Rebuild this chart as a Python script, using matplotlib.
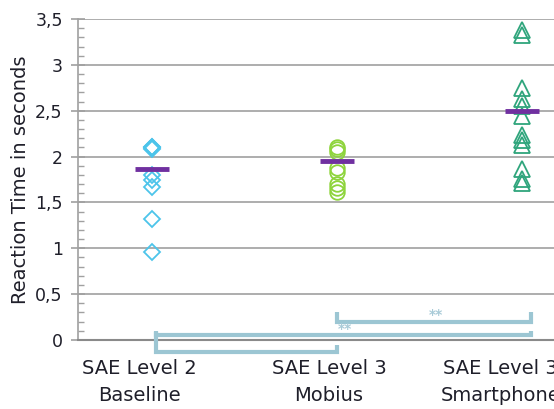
import numpy as np
import matplotlib
matplotlib.use("Agg")
import matplotlib.pyplot as plt
from matplotlib.ticker import MultipleLocator, FuncFormatter

# ---------------------------------------------------------------- data ---
categories = ["SAE Level 2\nBaseline", "SAE Level 3\nMobius", "SAE Level 3\nSmartphone"]
baseline = [2.10, 2.10, 2.09, 2.08, 1.80, 1.74, 1.67, 1.32, 0.96]
mobius = [2.10, 2.08, 2.05, 1.88, 1.83, 1.70, 1.66, 1.61]
smartphone = [3.38, 3.33, 2.75, 2.63, 2.55, 2.44, 2.23, 2.18, 2.13, 1.86, 1.76, 1.71]
means = [1.86, 1.95, 2.50]
# significance brackets: x start, x end, level, label
br_start = [1.0, 0.02, 0.02]
br_end = [2.05, 2.05, 1.0]
br_level = [0.20, 0.055, -0.13]
br_label = ["**", "**", ""]

TXT = "#1f1f2a"
GRID = "#a0a0a0"

fig = plt.figure(figsize=(5.54, 4.09), dpi=100)
ax = fig.add_axes([0.1408, 0.1687, 1 - 0.1408, 0.9535 - 0.1687])

series = [(baseline, "D", "#4cc4ea", 8.5), (mobius, "o", "#8ed43c", 10.5),
          (smartphone, "^", "#2fa57c", 11)]
for i, (vals, mk, col, ms) in enumerate(series):
    ax.plot(np.full(len(vals), i), vals, linestyle="none", marker=mk, ms=ms,
            mfc="none", mec=col, mew=1.3, zorder=4)

for i, m in enumerate(means):
    ax.hlines(m, i - 0.092, i + 0.092, color="#7030a0", lw=3.5, zorder=5)

# significance brackets (left / right tip heights differ a bit in the original)
bcol = "#9cc6d3"
tip_l = [0.10, 0.045, 0.22]
tip_r = [0.10, 0.045, 0.075]
for x0, x1, yb, lab, tl, tr in zip(br_start, br_end, br_level, br_label, tip_l, tip_r):
    ax.plot([x0, x0, x1, x1], [yb + tl, yb, yb, yb + tr], color=bcol, lw=3,
            solid_joinstyle="miter", solid_capstyle="butt", clip_on=False, zorder=3)
    if lab:
        ax.text((x0 + x1) / 2 + 0.01, yb + 0.07, lab, color="#a9cbd8", fontsize=10,
                ha="center", va="center", fontweight="bold", zorder=3)

ax.set_xlim(-0.40, 2.174)
ax.set_ylim(0, 3.5)
ax.yaxis.set_major_locator(MultipleLocator(0.5))
ax.yaxis.set_minor_locator(MultipleLocator(0.1))
ax.yaxis.set_major_formatter(FuncFormatter(lambda v, p: f"{v:g}".replace(".", ",")))
ax.grid(axis="y", which="major", color=GRID, lw=1.2)
ax.set_axisbelow(True)

# category labels sit a little left of the marker columns, as in the original
label_shift = [-0.07, -0.043, -0.114]
ax.set_xticks([i + s for i, s in enumerate(label_shift)])
ax.set_xticklabels(categories, fontsize=14, color=TXT, linespacing=1.5)
ax.tick_params(axis="x", length=0, pad=14)
ax.tick_params(axis="y", which="major", direction="inout", length=10, width=1.2,
               color=GRID, labelsize=12.5, labelcolor=TXT, pad=6)
ax.tick_params(axis="y", which="minor", direction="in", length=4, width=1,
               color=GRID)

for s in ["top", "right"]:
    ax.spines[s].set_visible(False)
ax.spines["left"].set_color(GRID)
ax.spines["left"].set_linewidth(1.2)
ax.spines["bottom"].set_color("#8a8a8a")
ax.spines["bottom"].set_linewidth(1.5)

ax.set_ylabel("Reaction Time in seconds", fontsize=14, color=TXT, labelpad=4)

fig.savefig("out.png", dpi=100)
